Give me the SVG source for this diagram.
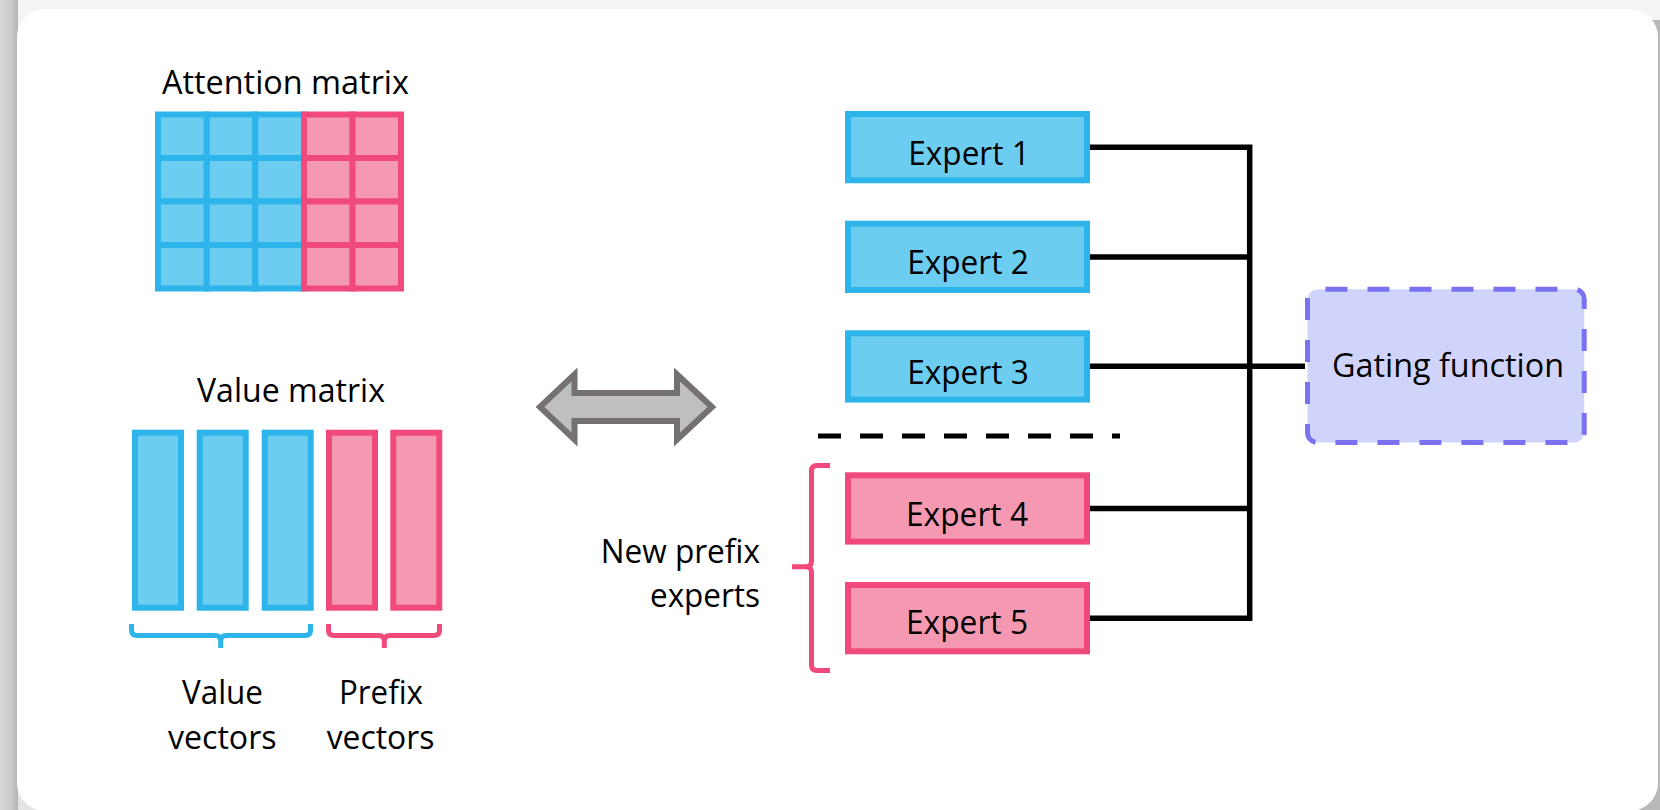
<svg xmlns="http://www.w3.org/2000/svg" width="1660" height="810" viewBox="0 0 1660 810">
  <defs>
    <linearGradient id="leftShade" x1="0" y1="0" x2="1" y2="0">
      <stop offset="0" stop-color="#d8d8d8"/>
      <stop offset="0.65" stop-color="#c9c9c9"/>
      <stop offset="1" stop-color="#b4b4b4"/>
    </linearGradient>
    <linearGradient id="topShade" x1="0" y1="0" x2="0" y2="1">
      <stop offset="0" stop-color="#f4f4f4"/>
      <stop offset="1" stop-color="#e4e4e4"/>
    </linearGradient>
    <style>
      .t { font-family: "Open Sans", "Noto Sans", "Liberation Sans", sans-serif; font-size: 32px; fill: #000000; }
      .mid { text-anchor: middle; }
      .end { text-anchor: end; }
      .blue { fill: #6DCDF1; stroke: #2DB5EB; stroke-width: 6; }
      .pink { fill: #F599B3; stroke: #EF4A7B; stroke-width: 6; }
      .conn { fill: none; stroke: #000000; stroke-width: 5.5; }
      .sep { fill: none; stroke: #000000; stroke-width: 5; stroke-dasharray: 23 19; }
      .braceB { fill: none; stroke: #2DB5EB; stroke-width: 5; stroke-linecap: butt; }
      .braceP { fill: none; stroke: #EF4A7B; stroke-width: 5; stroke-linecap: butt; }
    </style>
  </defs>

  <!-- page background -->
  <rect x="0" y="0" width="1660" height="810" fill="url(#topShade)"/>
  <rect x="0" y="0" width="18" height="810" fill="url(#leftShade)"/>
  <rect x="1640" y="20" width="20" height="790" fill="#b9b9b9"/>
  <!-- card -->
  <rect id="card" x="17" y="9" width="1641" height="802" rx="28" ry="28" fill="#ffffff"/>

  <!-- Attention matrix -->
  <g id="attention-matrix">
    <text class="t mid" x="285.5" y="94" textLength="247" lengthAdjust="spacingAndGlyphs">Attention matrix</text>
    <g>
      <rect class="blue" x="158" y="114.5" width="48.7" height="43.5"/>
      <rect class="blue" x="206.7" y="114.5" width="48.6" height="43.5"/>
      <rect class="blue" x="255.3" y="114.5" width="48.7" height="43.5"/>
      <rect class="blue" x="158" y="158" width="48.7" height="43.5"/>
      <rect class="blue" x="206.7" y="158" width="48.6" height="43.5"/>
      <rect class="blue" x="255.3" y="158" width="48.7" height="43.5"/>
      <rect class="blue" x="158" y="201.5" width="48.7" height="43.5"/>
      <rect class="blue" x="206.7" y="201.5" width="48.6" height="43.5"/>
      <rect class="blue" x="255.3" y="201.5" width="48.7" height="43.5"/>
      <rect class="blue" x="158" y="245" width="48.7" height="43.5"/>
      <rect class="blue" x="206.7" y="245" width="48.6" height="43.5"/>
      <rect class="blue" x="255.3" y="245" width="48.7" height="43.5"/>
    </g>
    <g>
      <rect class="pink" x="304" y="114.5" width="48.5" height="43.5"/>
      <rect class="pink" x="352.5" y="114.5" width="48.5" height="43.5"/>
      <rect class="pink" x="304" y="158" width="48.5" height="43.5"/>
      <rect class="pink" x="352.5" y="158" width="48.5" height="43.5"/>
      <rect class="pink" x="304" y="201.5" width="48.5" height="43.5"/>
      <rect class="pink" x="352.5" y="201.5" width="48.5" height="43.5"/>
      <rect class="pink" x="304" y="245" width="48.5" height="43.5"/>
      <rect class="pink" x="352.5" y="245" width="48.5" height="43.5"/>
    </g>
  </g>

  <!-- Value matrix -->
  <g id="value-matrix">
    <text class="t mid" x="291" y="402" textLength="188" lengthAdjust="spacingAndGlyphs">Value matrix</text>
    <rect class="blue" x="135" y="432.7" width="46" height="175"/>
    <rect class="blue" x="199.7" y="432.7" width="46" height="175"/>
    <rect class="blue" x="264.7" y="432.7" width="46" height="175"/>
    <rect class="pink" x="329" y="432.7" width="46" height="175"/>
    <rect class="pink" x="393.3" y="432.7" width="46" height="175"/>
  </g>

  <!-- Value vectors brace + label -->
  <g id="value-vectors">
    <path class="braceB" d="M131.5,624 V630 Q131.5,635.5 137,635.5 H215 Q220.7,635.5 220.7,641 V648 M220.7,641 Q220.7,635.5 226.4,635.5 H305 Q310.5,635.5 310.5,630 V624"/>
    <text class="t mid" x="222.5" y="704" textLength="81" lengthAdjust="spacingAndGlyphs">Value</text>
    <text class="t mid" x="222.3" y="749" textLength="108.7" lengthAdjust="spacingAndGlyphs">vectors</text>
  </g>

  <!-- Prefix vectors brace + label -->
  <g id="prefix-vectors">
    <path class="braceP" d="M328.5,624 V630 Q328.5,635.5 334,635.5 H378.6 Q384.3,635.5 384.3,641 V648 M384.3,641 Q384.3,635.5 390,635.5 H434 Q439.5,635.5 439.5,630 V624"/>
    <text class="t mid" x="381" y="704" textLength="84" lengthAdjust="spacingAndGlyphs">Prefix</text>
    <text class="t mid" x="380.5" y="749" textLength="107.6" lengthAdjust="spacingAndGlyphs">vectors</text>
  </g>

  <!-- Double arrow -->
  <g id="double-arrow">
    <polygon points="540,407 574.5,374.5 574.5,393 677,393 677,374.5 712,407 677,439.5 677,421 574.5,421 574.5,439.5" fill="#BFBFBF" stroke="#767171" stroke-width="6" stroke-linejoin="miter"/>
  </g>

  <!-- Connectors -->
  <g id="connectors">
    <path class="conn" d="M1090,147.2 H1249.7 V618.2 H1090"/>
    <path class="conn" d="M1090,256.9 H1249.7"/>
    <path class="conn" d="M1090,366.3 H1305"/>
    <path class="conn" d="M1090,508.5 H1249.7"/>
    <path class="sep" d="M818,436 H1120"/>
  </g>

  <!-- Experts -->
  <g id="expert-1">
    <rect class="blue" x="848" y="114" width="239" height="66.3"/>
    <text class="t mid" x="969" y="164.5" textLength="121.4" lengthAdjust="spacingAndGlyphs">Expert 1</text>
  </g>
  <g id="expert-2">
    <rect class="blue" x="848" y="223.7" width="239" height="66.3"/>
    <text class="t mid" x="968" y="273.5" textLength="121.6" lengthAdjust="spacingAndGlyphs">Expert 2</text>
  </g>
  <g id="expert-3">
    <rect class="blue" x="848" y="333.3" width="239" height="66.3"/>
    <text class="t mid" x="968" y="383.5" textLength="121.6" lengthAdjust="spacingAndGlyphs">Expert 3</text>
  </g>
  <g id="expert-4">
    <rect class="pink" x="848" y="475.3" width="239" height="66.3"/>
    <text class="t mid" x="967" y="525.5" textLength="122" lengthAdjust="spacingAndGlyphs">Expert 4</text>
  </g>
  <g id="expert-5">
    <rect class="pink" x="848" y="585" width="239" height="66.3"/>
    <text class="t mid" x="967" y="634" textLength="122" lengthAdjust="spacingAndGlyphs">Expert 5</text>
  </g>

  <!-- New prefix experts brace + label -->
  <g id="new-prefix-experts">
    <path class="braceP" d="M830,465.5 H817 Q811.5,465.5 811.5,471 V561 Q811.5,566.7 806,566.7 H792 M806,566.7 Q811.5,566.7 811.5,572.5 V665 Q811.5,670.5 817,670.5 H830"/>
    <text class="t end" x="760" y="563.3" textLength="159.3" lengthAdjust="spacingAndGlyphs">New prefix</text>
    <text class="t end" x="760" y="606.7" textLength="110" lengthAdjust="spacingAndGlyphs">experts</text>
  </g>

  <!-- Gating function -->
  <g id="gating-function">
    <rect x="1307.5" y="289.2" width="276.7" height="153.3" rx="10" ry="10" fill="#D1D4FA" stroke="#7B72F2" stroke-width="5" stroke-dasharray="22 20" stroke-dashoffset="-8"/>
    <text class="t mid" x="1448" y="377.3" textLength="232" lengthAdjust="spacingAndGlyphs">Gating function</text>
  </g>
</svg>
